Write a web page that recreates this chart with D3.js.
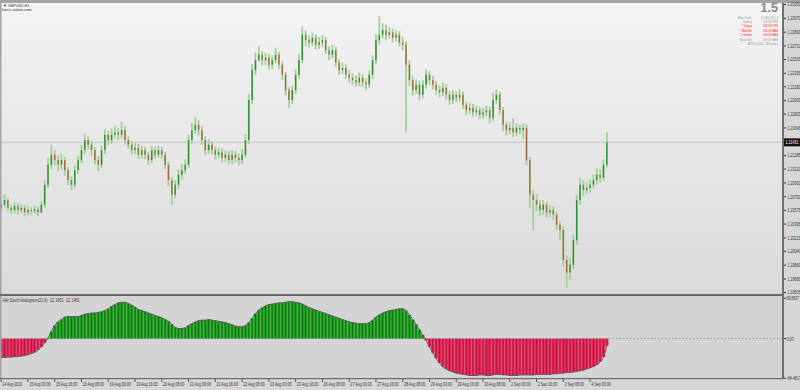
<!DOCTYPE html>
<html><head><meta charset="utf-8">
<script src="https://cdn.jsdelivr.net/npm/d3@7/dist/d3.min.js"></script>
<style>body{margin:0;background:#d6d6d6;overflow:hidden}svg{display:block}</style>
</head><body>
<svg id="c" width="800" height="390"></svg>
<script>
// ---------------- DATA ----------------
const firstOpen = 1.2060;
const closes = [1.2064,1.2070,1.2060,1.2057,1.2062,1.2057,1.2060,1.2054,1.2057,1.2056,1.2058,1.2054,1.2064,1.2090,1.2116,1.2129,1.2122,1.2116,1.2122,1.2109,
1.2096,1.2090,1.2109,1.2122,1.2135,1.2148,1.2142,1.2135,1.2122,1.2116,1.2135,1.2155,1.2148,1.2155,1.2158,1.2155,1.2161,1.2148,1.2142,1.2135,
1.2138,1.2129,1.2135,1.2129,1.2122,1.2135,1.2129,1.2135,1.2129,1.2116,1.2096,1.2077,1.2090,1.2103,1.2109,1.2116,1.2148,1.2161,1.2168,1.2161,
1.2148,1.2135,1.2142,1.2135,1.2129,1.2132,1.2125,1.2129,1.2122,1.2129,1.2125,1.2122,1.2129,1.2148,1.2200,1.2239,1.2252,1.2259,1.2252,1.2255,
1.2246,1.2252,1.2259,1.2246,1.2233,1.2213,1.2200,1.2213,1.2233,1.2252,1.2285,1.2278,1.2275,1.2281,1.2272,1.2275,1.2278,1.2265,1.2259,1.2265,
1.2249,1.2239,1.2242,1.2233,1.2229,1.2226,1.2223,1.2229,1.2223,1.2220,1.2233,1.2252,1.2278,1.2285,1.2291,1.2285,1.2288,1.2281,1.2285,1.2275,
1.2272,1.2246,1.2226,1.2213,1.2220,1.2207,1.2220,1.2233,1.2226,1.2220,1.2213,1.2210,1.2216,1.2207,1.2200,1.2207,1.2203,1.2207,1.2194,1.2187,
1.2190,1.2184,1.2187,1.2181,1.2184,1.2187,1.2177,1.2200,1.2207,1.2187,1.2168,1.2161,1.2164,1.2158,1.2164,1.2161,1.2164,1.2122,1.2077,1.2070,
1.2064,1.2057,1.2064,1.2054,1.2057,1.2051,1.2038,1.2031,1.1992,1.1976,1.1986,1.2018,1.2070,1.2090,1.2083,1.2086,1.2090,1.2096,1.2103,1.2099,
1.2116,1.21451];
const highs = [1.2070,1.2078,1.2073,1.2064,1.2067,1.2066,1.2065,1.2063,1.2062,1.2061,1.2063,1.2061,1.2069,1.2096,1.2125,1.2142,1.2135,1.2128,1.2130,1.2126,
1.2113,1.2101,1.2115,1.2128,1.2142,1.2156,1.2153,1.2147,1.2139,1.2127,1.2141,1.2162,1.2160,1.2163,1.2166,1.2163,1.2172,1.2166,1.2153,1.2147,
1.2145,1.2143,1.2141,1.2139,1.2133,1.2140,1.2139,1.2141,1.2139,1.2133,1.2120,1.2100,1.2096,1.2110,1.2116,1.2123,1.2155,1.2170,1.2178,1.2174,
1.2166,1.2153,1.2149,1.2147,1.2140,1.2138,1.2137,1.2135,1.2134,1.2135,1.2134,1.2131,1.2136,1.2155,1.2208,1.2247,1.2262,1.2270,1.2264,1.2262,
1.2260,1.2258,1.2268,1.2263,1.2250,1.2237,1.2217,1.2219,1.2240,1.2260,1.2296,1.2290,1.2284,1.2288,1.2286,1.2282,1.2285,1.2282,1.2270,1.2272,
1.2269,1.2253,1.2249,1.2247,1.2239,1.2235,1.2232,1.2236,1.2234,1.2228,1.2239,1.2258,1.2286,1.2309,1.2300,1.2298,1.2295,1.2293,1.2291,1.2290,
1.2282,1.2277,1.2252,1.2232,1.2227,1.2225,1.2226,1.2240,1.2238,1.2232,1.2225,1.2219,1.2223,1.2221,1.2212,1.2213,1.2211,1.2214,1.2211,1.2198,
1.2196,1.2195,1.2193,1.2191,1.2190,1.2193,1.2191,1.2210,1.2214,1.2211,1.2191,1.2172,1.2171,1.2176,1.2170,1.2168,1.2170,1.2168,1.2126,1.2083,
1.2078,1.2070,1.2070,1.2068,1.2063,1.2062,1.2055,1.2042,1.2036,1.1998,1.1995,1.2025,1.2077,1.2099,1.2096,1.2093,1.2097,1.2103,1.2112,1.2110,
1.2123,1.2158];
const lows = [1.2055,1.2060,1.2055,1.2052,1.2053,1.2051,1.2053,1.2049,1.2050,1.2051,1.2052,1.2049,1.2052,1.2060,1.2086,1.2110,1.2115,1.2108,1.2110,1.2102,
1.2090,1.2083,1.2086,1.2104,1.2118,1.2130,1.2136,1.2128,1.2116,1.2108,1.2112,1.2130,1.2142,1.2143,1.2150,1.2148,1.2150,1.2142,1.2136,1.2129,
1.2130,1.2123,1.2124,1.2123,1.2116,1.2118,1.2124,1.2125,1.2123,1.2110,1.2088,1.2064,1.2072,1.2085,1.2097,1.2104,1.2112,1.2143,1.2156,1.2154,
1.2142,1.2129,1.2130,1.2129,1.2123,1.2124,1.2119,1.2120,1.2116,1.2117,1.2119,1.2115,1.2117,1.2125,1.2143,1.2195,1.2233,1.2250,1.2245,1.2246,
1.2240,1.2240,1.2248,1.2240,1.2226,1.2206,1.2190,1.2195,1.2208,1.2228,1.2248,1.2270,1.2268,1.2270,1.2266,1.2266,1.2269,1.2260,1.2252,1.2254,
1.2243,1.2233,1.2234,1.2227,1.2223,1.2220,1.2217,1.2218,1.2217,1.2213,1.2216,1.2228,1.2247,1.2272,1.2280,1.2278,1.2280,1.2275,1.2276,1.2270,
1.2265,1.2158,1.2218,1.2206,1.2208,1.2200,1.2202,1.2215,1.2220,1.2214,1.2207,1.2203,1.2205,1.2201,1.2194,1.2195,1.2197,1.2198,1.2188,1.2181,
1.2182,1.2178,1.2179,1.2175,1.2176,1.2179,1.2170,1.2173,1.2195,1.2181,1.2160,1.2154,1.2156,1.2152,1.2153,1.2155,1.2150,1.2115,1.2060,1.2031,
1.2055,1.2050,1.2051,1.2047,1.2048,1.2044,1.2031,1.2018,1.1983,1.1956,1.1966,1.1980,1.2012,1.2064,1.2076,1.2078,1.2080,1.2085,1.2090,1.2093,
1.2095,1.2112];
const histValues = [-32,-31.5,-31,-31,-30.5,-30,-29.5,-28.5,-27,-25,-23,-19,-14,-7,1,12,22,28,32,36,
37,37,37,37,39,41,42,43,43,44,45,47,50,54,57,60,61,61,59,56,
53,49,47,45,43,41,39,37,35,32,29,24,19,17,17,18,22,25,28,30,
31,31,32,31,30,29,28,27,25,23,21,20,20,22,27,34,42,48,52,55,
57,58,59,60,60,61,62,62,61,60,58,55,52,50,48,46,44,42,40,38,
36,34,32,30,28,27,26,25,25,25,27,31,36,40,43,45,47,48,49,50,
50,47,40,32,24,15,6,-3,-14,-24,-33,-41,-47,-51,-54,-56,-58,-59,-60,-61,
-62,-62,-62,-61,-61,-62,-62,-61,-60,-60,-61,-61,-62,-62,-62,-61,-61,-61,-61,-61,
-60,-60,-60,-60,-60,-59,-59,-58,-58,-57,-57,-56,-55,-54,-53,-51,-49,-47,-44,-39,
-31,-12.1451];
const priceTicks = ["1.23250","1.23070","1.22890","1.22710","1.22535","1.22355","1.22180","1.22000","1.21825","1.21645",
"1.21285","1.21110","1.20930","1.20750","1.20575","1.20395","1.20215","1.20040","1.19860","1.19680","1.19505"];
const priceMin = 1.19505, priceMax = 1.23250;
const lastPrice = "1.21451";
const histMax = 69.8507, histMin = -64.4817;
const timeLabels = ["14 Aug 2019","15 Aug 00:00","15 Aug 16:00","16 Aug 08:00","19 Aug 00:00","19 Aug 16:00","20 Aug 08:00",
"21 Aug 00:00","21 Aug 16:00","22 Aug 08:00","23 Aug 00:00","23 Aug 16:00","26 Aug 08:00","27 Aug 00:00","27 Aug 16:00",
"28 Aug 08:00","29 Aug 00:00","29 Aug 16:00","30 Aug 08:00","2 Sep 00:00","2 Sep 16:00","3 Sep 08:00","4 Sep 00:00"];
const labelEvery = 8;
const infoRows = [["Bar Left:","[ 00:10 ]",false],["Sydney","08:58 PM",false],["* Tokyo","04:58 PM",true],
["* Berlin","09:58 AM",true],["* London","08:58 AM",true],["New York","03:58 AM",false]];
const atrText = "ATR (20): 39 pips";
const spreadText = "1.5";
const symbolText = "\u25BC GBPUSD,H1";
const siteText = "forex-station.com";
const indicatorTitle = "HH Stoch Histogram(21,6) -12.1451 -12.1451";

// ---------------- LAYOUT ----------------
const svg = d3.select("#c");
const plotR = 782, mainT = 3, mainB = 294, subT = 296, subB = 378;
const F = "'Liberation Sans', Arial, sans-serif";

// small text helper: compress horizontally (via transform) to a per-character width
function tiny(sel, perChar){
  sel.attr("font-family",F).each(function(){
    const t = d3.select(this), s = t.text();
    const target = s.length*perChar;
    const w = this.getComputedTextLength();
    if (!w) return;
    const sx = target / w;
    const ax = +t.attr("x") || 0, ay = +t.attr("y") || 0;
    const prev = t.attr("transform") || "";
    t.attr("transform", `${prev} translate(${ax},${ay}) scale(${sx.toFixed(4)},1) translate(${-ax},${-ay})`);
  });
  return sel;
}

const defs = svg.append("defs");
const g1 = defs.append("linearGradient").attr("id","bg").attr("x1",0).attr("y1",0).attr("x2",0).attr("y2",1);
g1.append("stop").attr("offset","0%").attr("stop-color","#f3f3f3");
g1.append("stop").attr("offset","100%").attr("stop-color","#dadada");

svg.append("rect").attr("x",0).attr("y",0).attr("width",800).attr("height",390).attr("fill","#d6d6d6");
svg.append("rect").attr("x",0).attr("y",mainT).attr("width",plotR).attr("height",mainB-mainT).attr("fill","url(#bg)");
svg.append("rect").attr("x",0).attr("y",subT).attr("width",plotR).attr("height",subB-subT).attr("fill","#d4d4d4");

const x = d3.scaleBand().domain(d3.range(234)).range([0, plotR]).paddingInner(0.3);
const cx = i => x(i) + x.bandwidth()/2;
const y = d3.scaleLinear().domain([priceMin, priceMax]).range([292, 4]);
const yh = d3.scaleLinear().domain([histMin, histMax]).range([377, 297]);

// current price line
svg.append("line").attr("x1",0).attr("x2",plotR).attr("y1",y(+lastPrice)).attr("y2",y(+lastPrice))
  .attr("stroke","#c4c4c4").attr("stroke-width",1);

// candles
const bars = closes.map((c,i)=>({i, o: i===0?firstOpen:closes[i-1], c, h: highs[i], l: lows[i]}));
const cg = svg.append("g");
cg.selectAll("line.w").data(bars).join("line")
  .attr("x1",d=>cx(d.i)).attr("x2",d=>cx(d.i))
  .attr("y1",d=>y(d.h)).attr("y2",d=>y(d.l))
  .attr("stroke","#a2cf9b").attr("stroke-width",1.8);
cg.selectAll("rect.b").data(bars).join("rect")
  .attr("x",d=>cx(d.i)-0.7).attr("width",1.4)
  .attr("y",d=>y(Math.max(d.o,d.c)))
  .attr("height",d=>Math.max(1, Math.abs(y(d.o)-y(d.c))))
  .attr("fill",d=>d.c>=d.o?"#2f8f2f":"#a06a3c");

// histogram
const hg = svg.append("g");
hg.selectAll("rect").data(histValues).join("rect")
  .attr("x",(d,i)=>x(i)-0.5).attr("width",x.step())
  .attr("y",d=>Math.min(yh(d),yh(0))).attr("height",d=>Math.abs(yh(d)-yh(0)))
  .attr("fill",d=>d>=0?"#22a322":"#e5265a");
hg.selectAll("line").data(histValues).join("line")
  .attr("x1",(d,i)=>cx(i)).attr("x2",(d,i)=>cx(i))
  .attr("y1",yh(0)).attr("y2",d=>yh(d))
  .attr("stroke",d=>d>=0?"#0d6e10":"#b0173e").attr("stroke-width",1);
const outline = d3.line().x((d,i)=>cx(i)).y(d=>yh(d)).curve(d3.curveMonotoneX);
hg.append("path").attr("d",outline(histValues)).attr("fill","none").attr("stroke","#5a5a5a").attr("stroke-width",1);
svg.append("line").attr("x1",0).attr("x2",plotR).attr("y1",yh(0)).attr("y2",yh(0))
  .attr("stroke","#8a8a8a").attr("stroke-width",0.8).attr("stroke-dasharray","1.5,2");

// frames
svg.append("rect").attr("x",0).attr("y",0).attr("width",800).attr("height",3).attr("fill","#a4a4a4");
svg.append("rect").attr("x",0).attr("y",0).attr("width",1.5).attr("height",subB).attr("fill","#a4a4a4");
svg.append("rect").attr("x",0).attr("y",mainB).attr("width",plotR+2).attr("height",2).attr("fill","#6a6a6a");
svg.append("rect").attr("x",0).attr("y",subB).attr("width",plotR+2).attr("height",1.2).attr("fill","#6a6a6a");
svg.append("rect").attr("x",plotR).attr("y",mainT).attr("width",2).attr("height",subB-mainT+1).attr("fill","#6f6f6f");

// price axis
const ya = svg.append("g").attr("transform",`translate(${plotR+2},0)`)
  .call(d3.axisRight(y).tickValues(priceTicks.map(Number)).tickFormat((d,i)=>priceTicks[i]).tickSize(2).tickPadding(1.5));
ya.select(".domain").remove();
ya.selectAll("line").attr("stroke","#333");
ya.selectAll("text").attr("font-size",5.6).attr("fill","#333")
  .each(function(){ const t=d3.select(this); t.attr("x", +t.attr("x") || 3.5); });
tiny(ya.selectAll("text"), 1.85);

// current price box
svg.append("rect").attr("x",plotR+2).attr("y",y(+lastPrice)-4).attr("width",800-plotR-2).attr("height",8).attr("fill","#111");
tiny(svg.append("text").attr("x",plotR+3.5).attr("y",y(+lastPrice)+2).attr("font-size",5.6)
  .attr("fill","#fff").text(lastPrice), 1.85);

// histogram axis labels
const hl = [[histMax, histMax.toFixed(4), 298.3],[0,"0.00", yh(0)],[histMin, histMin.toFixed(4), 378.3]];
tiny(svg.selectAll("text.hl").data(hl).join("text").attr("class","hl")
  .attr("x",plotR+4.5).attr("y",d=>d[2]+2).attr("font-size",5.6)
  .attr("fill","#333").text(d=>d[1]), 1.8);
svg.selectAll("line.hlt").data(hl).join("line").attr("x1",plotR+2).attr("x2",plotR+4)
  .attr("y1",d=>d[2]).attr("y2",d=>d[2]).attr("stroke","#333");

// time axis
const tl = svg.append("g");
timeLabels.forEach((t,k)=>{
  const xx = cx(k*labelEvery);
  tl.append("line").attr("x1",xx).attr("x2",xx).attr("y1",subB+1).attr("y2",subB+4).attr("stroke","#333").attr("stroke-width",0.8);
  tiny(tl.append("text").attr("x",xx+1.2).attr("y",subB+8).attr("font-size",5.6).attr("fill","#333").text(t), 1.78);
});

// texts
tiny(svg.append("text").attr("x",3).attr("y",7).attr("font-size",4.4).attr("fill","#333").text(symbolText), 2.4);
tiny(svg.append("text").attr("x",1.8).attr("y",11).attr("font-size",4.2).attr("fill","#333").text(siteText), 1.75);
tiny(svg.append("text").attr("x",3).attr("y",301.8).attr("font-size",5).attr("fill","#333").text(indicatorTitle), 1.83);

svg.append("text").attr("x",778).attr("y",11.8).attr("text-anchor","end").attr("font-family",F)
  .attr("font-weight","bold").attr("font-size",12.5).attr("fill","#858585").text(spreadText);
infoRows.forEach((r,k)=>{
  const yy = 18.6 + k*4.45;
  const col = r[2] ? "#ff2a2a" : "#9a9a9a";
  tiny(svg.append("text").attr("x",752).attr("y",yy).attr("text-anchor","end").attr("font-size",4.1).attr("fill",col).text(r[0]), 1.55);
  tiny(svg.append("text").attr("x",778).attr("y",yy).attr("text-anchor","end").attr("font-size",4.1).attr("fill",col).text(r[1]), 1.85);
});
tiny(svg.append("text").attr("x",778).attr("y",18.6+6*4.45).attr("text-anchor","end").attr("font-size",4.1).attr("fill","#9a9a9a").text(atrText), 1.78);
</script>
</body></html>
